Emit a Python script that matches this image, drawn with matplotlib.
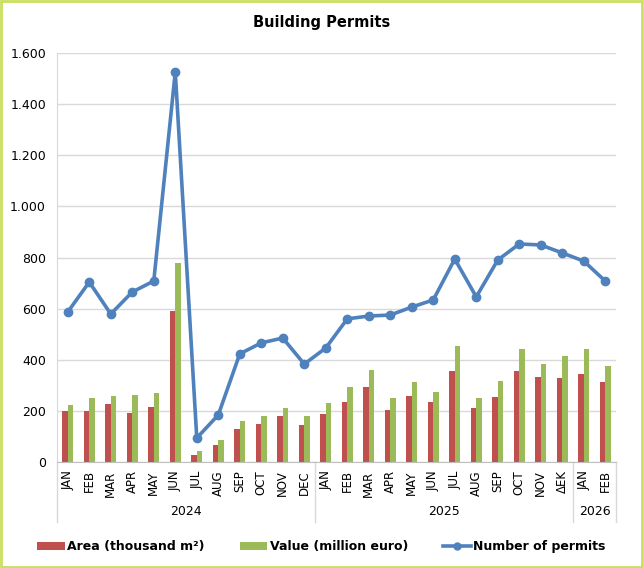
import numpy as np
import matplotlib
matplotlib.use("Agg")
import matplotlib.pyplot as plt
from matplotlib.patches import Patch, Rectangle
from matplotlib.lines import Line2D
from matplotlib.ticker import FuncFormatter

plt.rcParams["font.family"] = ["DejaVu Sans"]

# ---------------------------------------------------------------- data
months = ["JAN", "FEB", "MAR", "APR", "MAY", "JUN", "JUL", "AUG", "SEP", "OCT", "NOV", "DEC",
          "JAN", "FEB", "MAR", "APR", "MAY", "JUN", "JUL", "AUG", "SEP", "OCT", "NOV", "ΔΕΚ",
          "JAN", "FEB"]
years = ["2024", "2025", "2026"]
year_counts = [12, 12, 2]

area = [200, 201, 226, 191, 214, 592, 28, 66, 128, 147, 179, 144,
        188, 236, 294, 204, 260, 236, 357, 213, 256, 355, 333, 327,
        345, 313]
value = [222, 249, 258, 261, 270, 778, 44, 87, 161, 179, 210, 181,
         230, 294, 360, 252, 312, 273, 452, 252, 317, 444, 382, 415,
         442, 377]
permits = [587, 704, 579, 665, 708, 1526, 94, 184, 423, 466, 485, 383,
           446, 560, 571, 575, 606, 634, 794, 646, 790, 853, 849, 818,
           786, 708]

C_AREA = "#c0504d"
C_VALUE = "#9bbb59"
C_LINE = "#4f81bd"
C_GRID = "#d9d9d9"

# ---------------------------------------------------------------- figure
fig = plt.figure(figsize=(6.43, 5.68), dpi=100)
fig.patches.append(Rectangle((0.002, 0.002), 0.996, 0.996, transform=fig.transFigure,
                             fill=False, edgecolor="#c8e05c", linewidth=2))
ax = fig.add_axes([0.0887, 0.1866, 0.8693, 0.7201])

x = np.arange(len(months))
w = 0.25
ax.bar(x - w / 2, area, width=w, color=C_AREA, zorder=2)
ax.bar(x + w / 2, value, width=w, color=C_VALUE, zorder=2)
ax.plot(x, permits, color=C_LINE, linewidth=2.6, marker="o", markersize=6, zorder=3)

ax.set_xlim(-0.5, len(months) - 0.5)
ax.set_ylim(0, 1600)
ax.set_yticks(range(0, 1601, 200))
ax.yaxis.set_major_formatter(FuncFormatter(lambda v, p: f"{int(v):,}".replace(",", ".")))
ax.grid(axis="y", color=C_GRID, linewidth=1)
ax.set_axisbelow(True)

ax.set_xticks(x)
ax.set_xticklabels(months, rotation=90, fontsize=8.5)
ax.tick_params(axis="x", length=0, pad=6)
ax.tick_params(axis="y", length=0, labelsize=9, pad=8)

for side in ("top", "right"):
    ax.spines[side].set_visible(False)
ax.spines["left"].set_color(C_GRID)
ax.spines["bottom"].set_color("#bfbfbf")

# year groups with separators
trans = ax.get_xaxis_transform()
edges = np.concatenate([[0], np.cumsum(year_counts)]) - 0.5
for e in edges:
    ax.add_line(Line2D([e, e], [0, -0.147], transform=trans, color=C_GRID,
                       linewidth=1, clip_on=False))
for i, yr in enumerate(years):
    ax.text((edges[i] + edges[i + 1]) / 2, -0.12, yr, transform=trans,
            ha="center", va="center", fontsize=9)

fig.text(0.5, 1 - 22 / 568, "Building Permits", ha="center", va="center",
         fontsize=10.5, fontweight="bold")

handles = [
    Patch(facecolor=C_AREA, label="Area (thousand m²)"),
    Patch(facecolor=C_VALUE, label="Value (million euro)"),
    Line2D([0], [0], color=C_LINE, linewidth=2.6, marker="o", markersize=5,
           label="Number of permits"),
]
leg = fig.legend(handles=handles, loc="center", bbox_to_anchor=(0.5, 0.037), ncol=3,
                 frameon=False, prop={"weight": "bold", "size": 9},
                 handlelength=2.2, handleheight=0.55, columnspacing=2.8, handletextpad=0.2)

fig.savefig("out.png", dpi=100)
